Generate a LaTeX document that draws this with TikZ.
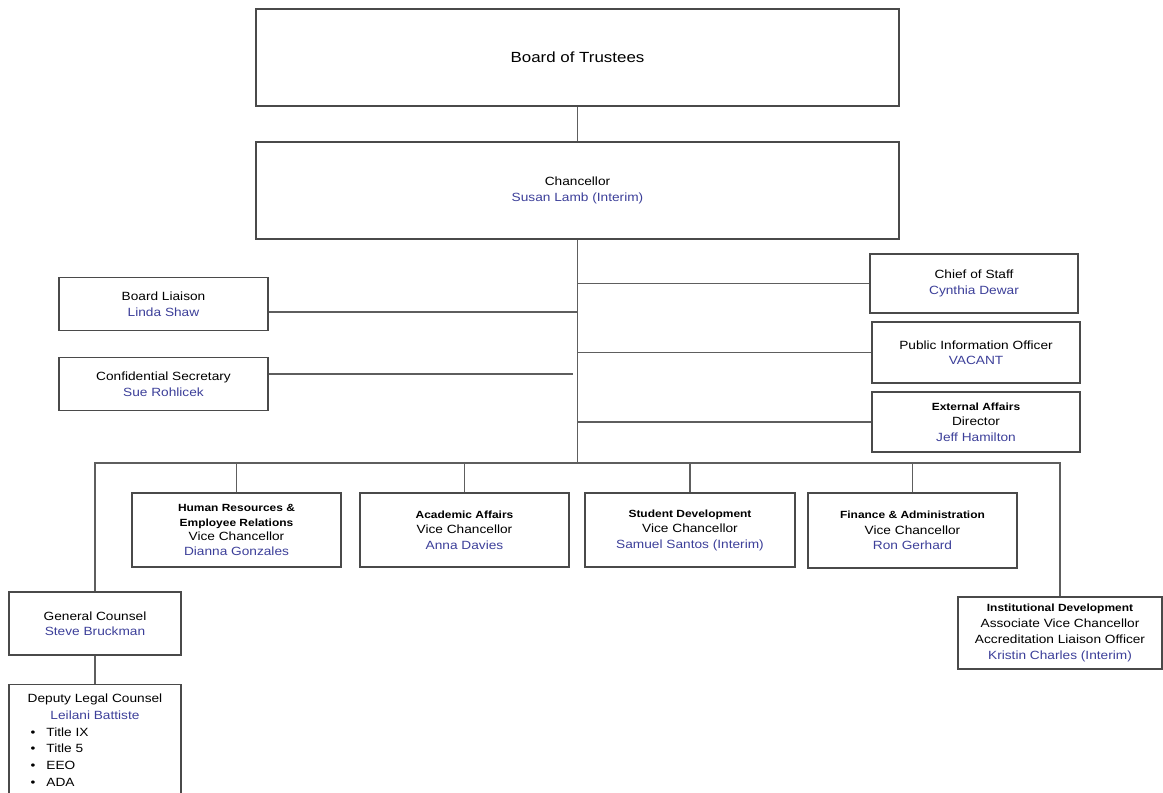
\documentclass[tikz,border=0pt]{standalone}
\usepackage{fontspec}
\setmainfont{Liberation Sans}[FakeStretch=1.15]
\usepackage{xcolor}
\usepackage{tikz}
\usetikzlibrary{positioning}

\definecolor{namecol}{HTML}{3C3F99}
\definecolor{boxline}{HTML}{4A4A4A}
\definecolor{wirecol}{HTML}{5E5E5E}

\newcommand{\who}[1]{\textcolor{namecol}{#1}}
\newcommand{\dept}[1]{{\fontsize{10.4}{15}\selectfont\bfseries #1}}

\begin{document}
\begin{tikzpicture}[
    x=1pt, y=-1pt,
    orgbox/.style={rectangle, draw=boxline, line width=1.2pt, align=center, inner sep=0pt, font=\fontsize{11.9}{15.5}\selectfont},
    topbox/.style={orgbox, minimum width=643pt, minimum height=97pt},
    vcbox/.style={orgbox, minimum width=209pt, minimum height=74pt},
    wire/.style={draw=wirecol, line width=1.2pt}
]
\useasboundingbox (0,0) rectangle (1163,793);

% Board and Chancellor
\node[topbox, font=\fontsize{14.7}{18}\selectfont] (trustees) at (577.5,57.5) {Board of Trustees};
\node[topbox, font=\fontsize{11.9}{16}\selectfont] (chancellor) at (577.5,190.5) {Chancellor\\ \who{Susan Lamb (Interim)}};

% Staff on the left
\node[orgbox, minimum width=209pt, minimum height=53pt] (liaison) at (163.5,304) {Board Liaison\\ \who{Linda Shaw}};
\node[orgbox, minimum width=209pt, minimum height=53pt] (secretary) at (163.5,384) {Confidential Secretary\\ \who{Sue Rohlicek}};

% Staff on the right
\node[orgbox, minimum width=208pt, minimum height=59pt] (chief) at (974,283.5) {Chief of Staff\\ \who{Cynthia Dewar}};
\node[orgbox, minimum width=208pt, minimum height=61pt] (pio) at (976,352.5) {Public Information Officer\\ \who{VACANT}};
\node[orgbox, minimum width=208pt, minimum height=60pt] (external) at (976,422) {\dept{External Affairs}\\ Director\\ \who{Jeff Hamilton}};

% Vice Chancellors
\node[vcbox, font=\fontsize{11.9}{14.8}\selectfont] (hr) at (236.5,530) {\dept{Human Resources \&}\\ \dept{Employee Relations}\\ Vice Chancellor\\ \who{Dianna Gonzales}};
\node[vcbox] (academic) at (464.5,530) {\dept{Academic Affairs}\\ Vice Chancellor\\ \who{Anna Davies}};
\node[vcbox, minimum width=210pt] (student) at (690,530) {\dept{Student Development}\\ Vice Chancellor\\ \who{Samuel Santos (Interim)}};
\node[vcbox, minimum height=75pt] (finance) at (912.5,530.5) {\dept{Finance \& Administration}\\ Vice Chancellor\\ \who{Ron Gerhard}};

% Legal
\node[orgbox, minimum width=172pt, minimum height=63pt] (counsel) at (95,623.5) {General Counsel\\ \who{Steve Bruckman}};
\node[orgbox, anchor=north, minimum width=172pt] (deputy) at (95,684) {\parbox[t][125pt][t]{172pt}{\baselineskip=16.7pt
    \centering\rule{0pt}{18pt}Deputy Legal Counsel\\ \who{Leilani Battiste}\par
    \raggedright
    \hspace*{21.6pt}\makebox[15.8pt][l]{\textbullet}Title IX\par
    \hspace*{21.6pt}\makebox[15.8pt][l]{\textbullet}Title 5\par
    \hspace*{21.6pt}\makebox[15.8pt][l]{\textbullet}EEO\par
    \hspace*{21.6pt}\makebox[15.8pt][l]{\textbullet}ADA\par}};

% Institutional Development
\node[orgbox, minimum width=204pt, minimum height=72pt, font=\fontsize{11.9}{16}\selectfont] (instdev) at (1060,633) {\dept{Institutional Development}\\ Associate Vice Chancellor\\ Accreditation Liaison Officer\\ \who{Kristin Charles (Interim)}};

% Spine and junctions
\coordinate (hub) at (577.5,463);
\coordinate (jliaison) at (577.5,312);
\coordinate (jsecretary) at (573,374);

% Edges
\draw[wire] (trustees) -- (chancellor);
\draw[wire] (chancellor.south) -- (hub);
\draw[wire] (liaison.east |- jliaison) -- (jliaison);
\draw[wire] (secretary.east |- jsecretary) -- (jsecretary);
\draw[wire] (chief.west) -- (chief.west -| hub);
\draw[wire] (pio.west) -- (pio.west -| hub);
\draw[wire] (external.west) -- (external.west -| hub);
\draw[wire] (counsel.north) |- (instdev.north |- hub) -- (instdev.north);
\draw[wire] (hr.north |- hub) -- (hr.north);
\draw[wire] (academic.north |- hub) -- (academic.north);
\draw[wire] (student.north |- hub) -- (student.north);
\draw[wire] (finance.north |- hub) -- (finance.north);
\draw[wire] (counsel.south) -- (deputy.north);

\end{tikzpicture}
\end{document}
